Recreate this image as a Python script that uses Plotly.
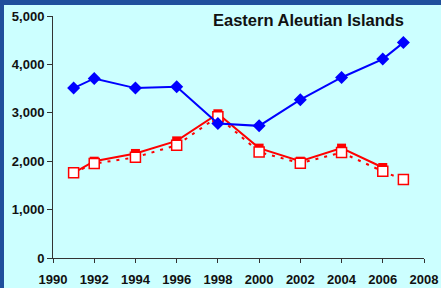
import plotly.graph_objects as go

years_blue = [1991, 1992, 1994, 1996, 1998, 2000, 2002, 2004, 2006, 2007]
blue_vals = [3510, 3710, 3510, 3540, 2780, 2730, 3270, 3730, 4110, 4450]

years_red = [1991, 1992, 1994, 1996, 1998, 2000, 2002, 2004, 2006]
red_vals = [1760, 2000, 2160, 2420, 2980, 2270, 2000, 2270, 1870]

years_open = [1991, 1992, 1994, 1996, 1998, 2000, 2002, 2004, 2006, 2007]
open_vals = [1760, 1950, 2080, 2330, 2920, 2190, 1960, 2180, 1790, 1620]

x_ticks = [1990, 1992, 1994, 1996, 1998, 2000, 2002, 2004, 2006, 2008]
y_ticks = [0, 1000, 2000, 3000, 4000, 5000]

title_text = "Eastern Aleutian Islands"

CYAN = "#CCFFFF"
DARK = "#1F4F9C"

fig = go.Figure()
fig.add_trace(go.Scatter(
    x=years_open, y=open_vals, mode="lines",
    line=dict(color="#FF0000", width=2, dash="3px,6px"),
    showlegend=False, hoverinfo="skip"))
fig.add_trace(go.Scatter(
    x=years_red, y=red_vals, mode="lines+markers",
    line=dict(color="#FF0000", width=2),
    marker=dict(symbol="square", size=9, color="#FF0000"),
    showlegend=False))
fig.add_trace(go.Scatter(
    x=years_open, y=open_vals, mode="markers",
    marker=dict(symbol="square", size=10, color="white",
                line=dict(color="#FF0000", width=1.5)),
    showlegend=False))
fig.add_trace(go.Scatter(
    x=years_blue, y=blue_vals, mode="lines+markers",
    line=dict(color="#0000FF", width=2),
    marker=dict(symbol="diamond", size=10, color="#0000FF"),
    showlegend=False))

W, H = 441, 288
ml, mr, mt, mb = 53, 17, 16, 30
pw, ph = W - ml - mr, H - mt - mb

def px_x(p):
    return (p - ml) / pw

def px_y(p):
    return (H - mb - p) / ph

tickfont = dict(family="Liberation Sans, Arial", size=13, color="#111111", weight="bold")

fig.update_layout(
    width=W, height=H, autosize=False,
    margin=dict(l=ml, r=mr, t=mt, b=mb, pad=0, autoexpand=False),
    paper_bgcolor=CYAN, plot_bgcolor=CYAN,
    xaxis=dict(range=[1990, 2008], tickvals=x_ticks, ticks="outside", ticklen=4,
               tickcolor="#333333", showline=True, linecolor="#333333", linewidth=1,
               showgrid=False, zeroline=False, tickfont=tickfont, automargin=False,
               ticklabelstandoff=5),
    yaxis=dict(range=[0, 5000], tickvals=y_ticks, tickformat=",d", ticks="outside",
               ticklen=5, tickcolor="#333333", showline=True, linecolor="#333333",
               linewidth=1, showgrid=False, zeroline=False, tickfont=tickfont,
               automargin=False),
    shapes=[
        dict(type="rect", xref="paper", yref="paper", x0=px_x(-5), x1=px_x(4),
             y0=px_y(300), y1=px_y(-5), fillcolor=DARK, line=dict(width=0), layer="above"),
        dict(type="rect", xref="paper", yref="paper", x0=px_x(-5), x1=px_x(450),
             y0=px_y(5), y1=px_y(-5), fillcolor=DARK, line=dict(width=0), layer="above"),
    ],
    annotations=[dict(text=title_text, xref="paper", yref="paper",
                      x=px_x(406), y=px_y(20), xanchor="right", yanchor="middle",
                      showarrow=False,
                      font=dict(family="Liberation Sans, Arial", size=16.5, color="#111111",
                                weight="bold"))],
)

fig.write_html("out.html", config={"displayModeBar": False},
               post_script="document.body.style.margin='0px';document.body.style.background='%s';" % CYAN)
